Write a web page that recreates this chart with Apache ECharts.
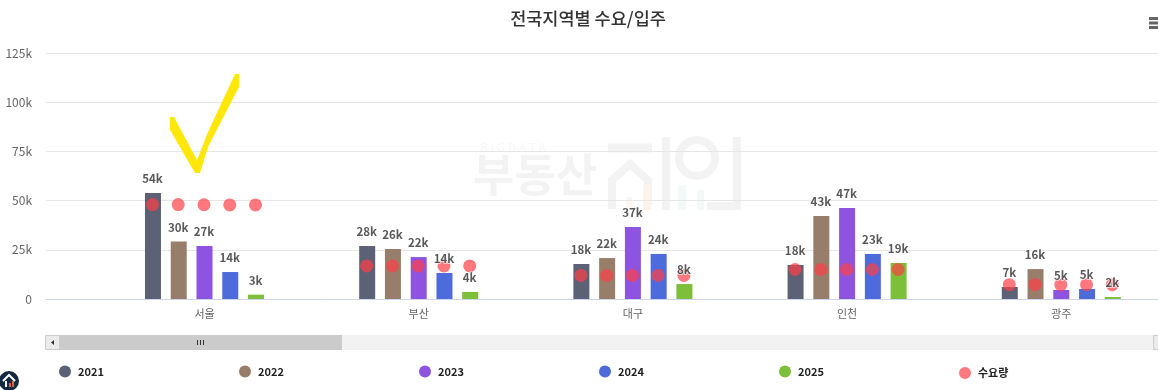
<!DOCTYPE html>
<html><head><meta charset="utf-8">
<script src="https://cdn.jsdelivr.net/npm/echarts@6/dist/echarts.min.js"></script>
<style>html,body{margin:0;padding:0;background:#fff;overflow:hidden;width:1158px;height:390px}#c{width:1172px;height:390px}</style>
</head><body><div id="c"></div>
<script>
const regions=['서울','부산','대구','인천','광주'];
const years=['2021','2022','2023','2024','2025'];
const yTicks=[0,25,50,75,100,125];
const v2021=[53.9,26.9,17.8,17.3,6.1];
const v2022=[29.2,25.4,20.8,42.2,15.2];
const v2023=[26.9,21.3,36.6,46.2,4.6];
const v2024=[13.7,13.2,22.9,22.9,5.1];
const v2025=[2.2,3.6,7.6,18.3,1.0];
const l2021=['54k','28k','18k','18k','7k'];
const l2022=['30k','26k','22k','43k','16k'];
const l2023=['27k','22k','37k','47k','5k'];
const l2024=['14k','14k','24k','23k','5k'];
const l2025=['3k','4k','8k','19k','2k'];
const d2021=[48.0,16.8,12.0,15.0,7.3];
const d2022=[48.0,16.8,12.0,15.0,7.3];
const d2023=[47.9,16.8,12.0,15.0,7.3];
const d2024=[47.8,16.8,12.0,15.0,7.3];
const d2025=[47.8,16.8,12.0,15.0,7.3];

const values=[v2021,v2022,v2023,v2024,v2025];
const labels=[l2021,l2022,l2023,l2024,l2025];
const demand=[d2021,d2022,d2023,d2024,d2025];
const colors=['#5d6175','#977e6b','#8e54e0','#4d6bdb','#7cbf38'];
const demandName='수요량';
const FONT='"Noto Sans CJK KR","Noto Sans",sans-serif';
const STEP=25.75, WM='#f3f3f3';

const series=[];
years.forEach((y,i)=>series.push({type:'bar',name:y,xAxisIndex:1,yAxisIndex:1,data:values[i],barWidth:16,barGap:'61%',z:2,
  itemStyle:{color:colors[i]},silent:true}));
years.forEach((y,i)=>series.push({type:'scatter',name:demandName,xAxisIndex:1,yAxisIndex:1,data:demand[i],symbol:'circle',symbolSize:13,
  symbolOffset:[(i-2)*STEP-0.5,0],z:3,itemStyle:{color:'#ff3f46',opacity:.7},silent:true}));
years.forEach((y,i)=>series.push({type:'scatter',name:y,xAxisIndex:1,yAxisIndex:1,data:values[i],symbol:'circle',symbolSize:1,z:4,silent:true,
  itemStyle:{color:'transparent'},
  label:{show:true,position:'top',offset:[(i-2)*STEP-0.5,-3],fontFamily:FONT,fontSize:11.5,fontWeight:700,color:'#2f2f2f',
    textBorderColor:'#fff',textBorderWidth:1.5,formatter:p=>labels[i][p.dataIndex]}}));

const legendX=[59,239,419,599,779,959];
const legends=[...years,demandName].map((n,i)=>({data:[n],left:legendX[i],top:i===5?367:365.5,padding:0,icon:'circle',itemWidth:12,itemHeight:12,itemGap:0,
  selectedMode:false,textStyle:{fontFamily:FONT,fontSize:11,fontWeight:700,color:'#222',padding:[0,0,0,2]}}));

const wmStroke=(pts,w)=>({type:'polyline',z:0,silent:true,shape:{points:pts},style:{stroke:WM,lineWidth:w,fill:null}});
const graphic=[
  {type:'text',z:0,silent:true,x:480,y:141,style:{text:'B I G D A T A',font:'12px '+FONT,fill:'#f6f6f6'}},
  {type:'text',z:0,silent:true,x:473,y:152,style:{text:'부동산',font:'bold 45px '+FONT,fill:WM}},
  wmStroke([[608,148],[652,148]],9),
  wmStroke([[612,209],[612,180],[630,164],[648,180],[648,205]],8),
  wmStroke([[666,137],[666,210]],8),
  {type:'circle',z:0,silent:true,shape:{cx:697,cy:158,r:18},style:{stroke:WM,lineWidth:8,fill:null}},
  wmStroke([[737,137],[737,206],[707,206]],8),
  {type:'rect',z:0,silent:true,shape:{x:626,y:197,width:6,height:13},style:{fill:'#fdf5ef'}},
  {type:'rect',z:0,silent:true,shape:{x:643,y:185,width:8,height:25},style:{fill:'#fbf3ec'}},
  {type:'rect',z:0,silent:true,shape:{x:678,y:185,width:8,height:25},style:{fill:'#f3f9f7'}},
  {type:'rect',z:0,silent:true,shape:{x:697,y:190,width:7,height:20},style:{fill:'#f3f9f9'}},
  // menu button
  {type:'rect',z:5,silent:true,shape:{x:1149,y:17,width:9,height:3},style:{fill:'#666'}},
  {type:'rect',z:5,silent:true,shape:{x:1149,y:21.5,width:9,height:3},style:{fill:'#666'}},
  {type:'rect',z:5,silent:true,shape:{x:1149,y:26,width:9,height:3},style:{fill:'#666'}},
  // scrollbar
  {type:'rect',z:5,silent:true,shape:{x:45,y:335,width:1113,height:15},style:{fill:'#f2f2f2'}},
  {type:'rect',z:5,silent:true,shape:{x:59,y:335,width:283,height:15},style:{fill:'#cbcbcb'}},
  {type:'rect',z:5,silent:true,shape:{x:45.5,y:335.5,width:14,height:14},style:{fill:'#ebebeb',stroke:'#cccccc',lineWidth:1}},
  {type:'rect',z:5,silent:true,shape:{x:1153.5,y:335.5,width:6,height:14},style:{fill:'#ebebeb',stroke:'#cccccc',lineWidth:1}},
  {type:'polygon',z:6,silent:true,shape:{points:[[51,342.5],[54,340],[54,345]]},style:{fill:'#333'}},
  {type:'rect',z:6,silent:true,shape:{x:197,y:340,width:1,height:5},style:{fill:'#333'}},
  {type:'rect',z:6,silent:true,shape:{x:200,y:340,width:1,height:5},style:{fill:'#333'}},
  {type:'rect',z:6,silent:true,shape:{x:203,y:340,width:1,height:5},style:{fill:'#333'}},
  // logo
  {type:'circle',z:6,silent:true,shape:{cx:9,cy:381,r:10},style:{fill:'#14283f'}},
  {type:'polyline',z:7,silent:true,shape:{points:[[3,381],[9,375],[15,381]]},style:{stroke:'#fff',lineWidth:2,fill:null}},
  {type:'rect',z:7,silent:true,shape:{x:5,y:381,width:2,height:6},style:{fill:'#fff'}},
  {type:'rect',z:7,silent:true,shape:{x:9,y:383,width:2,height:4},style:{fill:'#e8613c'}},
  {type:'rect',z:7,silent:true,shape:{x:12,y:381,width:2,height:6},style:{fill:'#e8613c'}},
  // hand drawn check mark
  {type:'polygon',z:8,silent:true,shape:{points:[[170,117],[174,117],[197,160],[208,132],[235,74],[239,74],[239,87],[208,147],[200,173],[195,173],[170,130]]},
    style:{fill:'#ffe600',opacity:.96}}
];

const chart=echarts.init(document.getElementById('c'),null,{renderer:'canvas'});
chart.setOption({
  animation:false,backgroundColor:'#fff',
  title:{text:'전국지역별 수요/입주',left:583,top:5,textAlign:'center',
    textStyle:{fontFamily:FONT,fontSize:17.5,fontWeight:500,color:'#333'}},
  legend:legends,
  grid:[
    {left:46,right:14,top:53,bottom:91},
    {left:97.4,width:1071,top:53,bottom:91}
  ],
  xAxis:[
    {type:'category',gridIndex:0,data:regions,axisLabel:{show:false},axisTick:{show:false},
     axisLine:{show:true,lineStyle:{color:'#ccd6eb',width:1}},splitLine:{show:false}},
    {type:'category',gridIndex:1,data:regions,axisTick:{show:false},axisLine:{show:false},
     axisLabel:{margin:9,fontFamily:FONT,fontSize:11,color:'#666'}}
  ],
  yAxis:[
    {type:'value',gridIndex:0,min:yTicks[0],max:yTicks[yTicks.length-1],interval:yTicks[1]-yTicks[0],
     axisLine:{show:false},axisTick:{show:false},
     axisLabel:{margin:14,fontFamily:FONT,fontSize:12,color:'#666',padding:[0,0,2,0],formatter:v=>v?v+'k':'0'},
     splitLine:{show:true,lineStyle:{color:'#e6e6e6',width:1}}},
    {type:'value',gridIndex:1,min:yTicks[0],max:yTicks[yTicks.length-1],interval:yTicks[1]-yTicks[0],
     axisLine:{show:false},axisTick:{show:false},axisLabel:{show:false},splitLine:{show:false}}
  ],
  series,graphic
});
</script></body></html>
